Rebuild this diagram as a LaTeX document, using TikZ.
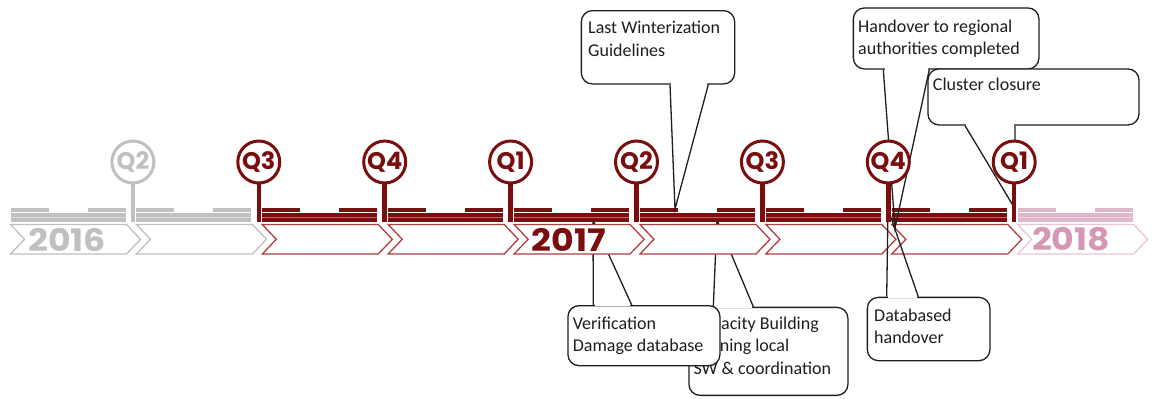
\documentclass[tikz,border=0pt]{standalone}
\usepackage{fontspec}
\setmainfont{Carlito}
\newfontfamily\qfont{Poppins}
\newfontfamily\yfont{Poppins}[FakeStretch=1.12]
\usetikzlibrary{calc}
\definecolor{dred}{RGB}{122,14,14}
\definecolor{cred}{RGB}{176,62,62}
\definecolor{tgray}{RGB}{192,192,192}
\definecolor{tpink}{RGB}{224,182,202}
\definecolor{ppink}{RGB}{212,152,182}
\definecolor{cpink}{RGB}{232,198,214}
\definecolor{ink}{RGB}{30,30,30}
\begin{document}
\begin{tikzpicture}[x=1pt,y=-1pt,
  callbox/.style={draw=ink, line width=1.3pt, fill=white, rounded corners=11pt, inner sep=0pt, anchor=north west},
  calltxt/.style={anchor=base west, inner sep=0pt, align=left, text=ink, font=\fontsize{18}{22.5}\selectfont},
  ptr/.style={draw=ink, line width=1.3pt, line join=miter},
  gapline/.style={draw=white, line width=2.6pt},
  qcircle/.style={circle, draw=#1, fill=white, line width=3pt, minimum size=42pt, inner sep=0pt, text=#1, font=\qfont\bfseries\fontsize{24}{24}\selectfont},
  yeartxt/.style={inner sep=0pt, text=#1, font=\yfont\bfseries\fontsize{31}{31}\selectfont}
]
\useasboundingbox (0,0) rectangle (1152,399);

% ---- callouts below the timeline (drawn under the chevrons)
\node[callbox, minimum width=159pt, minimum height=88pt] (cb) at (688.3,306.7) {};
\coordinate (cb-a) at ($(cb.north west)+(25,0)$);
\coordinate (cb-b) at ($(cb.north west)+(65,0)$);
\coordinate (cb-t) at (717,220);
\draw[gapline] ($(cb-a)+(1.3,0)$) -- ($(cb-b)+(-1.3,0)$);
\draw[ptr] (cb-a) -- (cb-t) -- (cb-b);
\node[calltxt] (cbt) at (693.3,374) {Capacity Building\\Training local\\SW \& coordination};

\node[callbox, minimum width=152pt, minimum height=60pt] (vd) at (567.3,305) {};
\coordinate (vd-a) at ($(vd.north west)+(26,0)$);
\coordinate (vd-b) at ($(vd.north west)+(64.4,0)$);
\coordinate (vd-t) at (593,220);
\draw[gapline] ($(vd-a)+(1.3,0)$) -- ($(vd-b)+(-1.3,0)$);
\draw[ptr] (vd-a) -- (vd-t) -- (vd-b);
\node[calltxt] (vdt) at (572.7,351.7) {Verification\\Damage database};

% ---- timeline bars and chevrons
\foreach \k/\c/\cc in {0/tgray/tgray,1/tgray/tgray,2/dred/cred,3/dred/cred,4/dred/cred,5/dred/cred,6/dred/cred,7/dred/cred,8/tpink/cpink}{
  \pgfmathsetmacro{\s}{10.5+125.9*\k}
  \fill[\c] (\s,208) rectangle ++(38,4);
  \fill[\c] ($(\s,208)+(77,0)$) rectangle ++(38,4);
  \fill[\c] (\s,213) rectangle ++(115,8.5);
  \draw[\c!60!white, line width=0.7pt] (\s,216.9) -- ++(115,0);
  \draw[\cc, fill=white, line width=1.3pt, line join=miter]
    (\s,224.5) -- ++(14,14.8) -- ++(-14,14.7) -- ++(116,0) -- ++(14,-14.7) -- ++(-14,-14.8) -- cycle;
}
\node[yeartxt=tgray] (y16) at (67,239.5) {2016};
\node[yeartxt=dred] (y17) at (569,240) {2017};
\node[yeartxt=ppink] (y18) at (1071,239.5) {2018};

% ---- callouts above the timeline
\node[callbox, minimum width=153.3pt, minimum height=73.3pt] (lw) at (580.7,10) {};
\coordinate (lw-a) at ($(lw.south west)+(89.3,0)$);
\coordinate (lw-b) at ($(lw.south west)+(127.6,0)$);
\coordinate (lw-t) at (675,209);
\draw[gapline] ($(lw-a)+(1.3,0)$) -- ($(lw-b)+(-1.3,0)$);
\draw[ptr] (lw-a) -- (lw-t) -- (lw-b);
\node[calltxt] (lwt) at (588,56) {Last Winterization\\Guidelines};

\node[callbox, minimum width=185.6pt, minimum height=61pt] (ho) at (852.7,7.3) {};
\coordinate (ho-a) at ($(ho.south west)+(30.6,0)$);
\coordinate (ho-b) at ($(ho.south west)+(76.6,0)$);
\coordinate (ho-t) at (895,228);
\draw[gapline] ($(ho-a)+(1.3,0)$) -- ($(ho-b)+(-1.3,0)$);
\draw[ptr] (ho-a) -- (ho-t) -- (ho-b);
\node[calltxt] (hot) at (858,54.5) {Handover to regional\\authorities completed};

\node[callbox, minimum width=211pt, minimum height=56pt] (cc) at (927.3,68.3) {};
\coordinate (cc-a) at ($(cc.south west)+(37.7,0)$);
\coordinate (cc-b) at ($(cc.south west)+(87.7,0)$);
\coordinate (cc-t) at (1014.5,208);
\draw[gapline] ($(cc-a)+(1.3,0)$) -- ($(cc-b)+(-1.3,0)$);
\draw[ptr] (cc-a) -- (cc-t) -- (cc-b);
\node[calltxt] (cct) at (932.7,90) {Cluster closure};

\node[callbox, minimum width=122.6pt, minimum height=63.3pt] (dh) at (866.7,296.7) {};
\coordinate (dh-a) at ($(dh.north west)+(20,0)$);
\coordinate (dh-b) at ($(dh.north west)+(51.6,0)$);
\coordinate (dh-t) at (888,209);
\draw[gapline] ($(dh-a)+(1.3,0)$) -- ($(dh-b)+(-1.3,0)$);
\draw[ptr] (dh-a) -- (dh-t) -- (dh-b);
\node[calltxt] (dht) at (874,343.5) {Databased\\handover};

% ---- quarter markers
\foreach \k/\lab/\c/\w in {1/Q2/tgray/3.5,2/Q3/dred/4.5,3/Q4/dred/4.5,4/Q1/dred/4.5,5/Q2/dred/4.5,6/Q3/dred/4.5,7/Q4/dred/4.5,8/Q1/dred/4.5}{
  \pgfmathsetmacro{\qx}{7+125.9*\k}
  \coordinate (b\k) at (\qx,222);
  \coordinate (c\k) at (\qx,162);
  \draw[draw=\c, line width=\w pt] (c\k) -- (b\k);
  \node[qcircle=\c] (q\k) at (c\k) {\lab};
}
\end{tikzpicture}
\end{document}
